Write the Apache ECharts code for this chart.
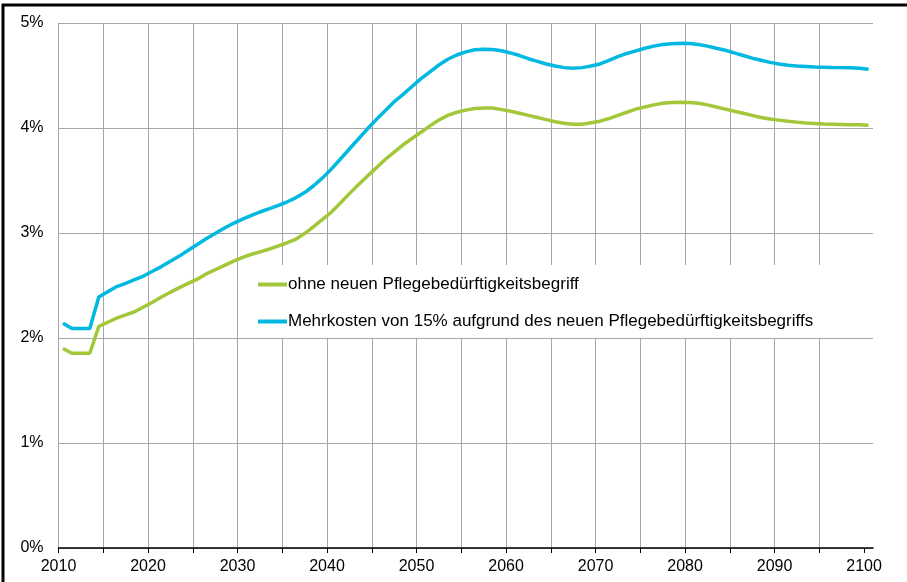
<!DOCTYPE html>
<html>
<head>
<meta charset="utf-8">
<script src="https://cdn.jsdelivr.net/npm/echarts@6/dist/echarts.min.js"></script>
<style>
  html, body { margin: 0; padding: 0; background: #fff; }
  #chart { width: 907px; height: 582px; }
</style>
</head>
<body>
<div id="chart"></div>
<script>
// Jahre 2010..2100 (Werte liegen jeweils in der Jahresmitte)
const firstYear = 2010
const seriesNames = [
  'ohne neuen Pflegebedürftigkeitsbegriff',
  'Mehrkosten von 15% aufgrund des neuen Pflegebedürftigkeitsbegriffs'
]
// ohne neuen Pflegebedürftigkeitsbegriff, in %
const ohneNeuen = [
  1.90, 1.855, 1.855, 1.855, 2.11, 2.15, 2.19, 2.22, 2.25, 2.295,
  2.34, 2.39, 2.435, 2.48, 2.52, 2.56, 2.61, 2.65, 2.69, 2.73,
  2.765, 2.795, 2.82, 2.845, 2.875, 2.905, 2.94, 2.995, 3.06, 3.13,
  3.20, 3.285, 3.375, 3.46, 3.54, 3.62, 3.70, 3.77, 3.84, 3.90,
  3.96, 4.02, 4.076, 4.12, 4.15, 4.17, 4.185, 4.19, 4.19, 4.175,
  4.16, 4.14, 4.12, 4.10, 4.08, 4.06, 4.045, 4.035, 4.035, 4.05,
  4.065, 4.09, 4.12, 4.15, 4.18, 4.20, 4.22, 4.235, 4.243, 4.245,
  4.243, 4.235, 4.22, 4.20, 4.18, 4.16, 4.14, 4.12, 4.10, 4.085,
  4.075, 4.065, 4.056, 4.048, 4.042, 4.038, 4.036, 4.034, 4.032, 4.03,
  4.026
]
// Mehrkosten von 15%, in %
const mehrkosten = [
  2.14, 2.09, 2.09, 2.09, 2.39, 2.44, 2.49, 2.52, 2.555, 2.59,
  2.635, 2.68, 2.73, 2.78, 2.835, 2.89, 2.945, 2.995, 3.045, 3.09,
  3.13, 3.165, 3.20, 3.23, 3.26, 3.295, 3.335, 3.385, 3.45, 3.525,
  3.61, 3.705, 3.80, 3.895, 3.99, 4.08, 4.165, 4.25, 4.32, 4.395,
  4.47, 4.535, 4.60, 4.655, 4.695, 4.725, 4.745, 4.75, 4.748, 4.735,
  4.715, 4.69, 4.66, 4.635, 4.61, 4.59, 4.575, 4.57, 4.575, 4.59,
  4.61, 4.645, 4.68, 4.71, 4.735, 4.76, 4.78, 4.795, 4.803, 4.807,
  4.805, 4.795, 4.78, 4.76, 4.74, 4.715, 4.69, 4.665, 4.645, 4.625,
  4.61, 4.598, 4.59, 4.585, 4.58, 4.578, 4.576, 4.575, 4.573, 4.57,
  4.56
]
const xTicks = [2010, 2015, 2020, 2025, 2030, 2035, 2040, 2045, 2050, 2055,
  2060, 2065, 2070, 2075, 2080, 2085, 2090, 2095, 2100]
const yTicks = [0, 1, 2, 3, 4, 5]

const toPoints = arr => arr.map((v, i) => [firstYear + i + 0.5, v])
const font = 'Liberation Sans, Arial, sans-serif'

const chart = echarts.init(document.getElementById('chart'))
chart.setOption({
  animation: false,
  textStyle: { fontFamily: font },
  grid: { left: 58.5, right: 34, top: 23, bottom: 34 },
  graphic: [
    { type: 'line', shape: { x1: 2, y1: 5, x2: 907, y2: 5 }, style: { stroke: '#000', lineWidth: 3 } },
    { type: 'line', shape: { x1: 3, y1: 4, x2: 3, y2: 582 }, style: { stroke: '#000', lineWidth: 3 } }
  ],
  legend: {
    orient: 'vertical',
    left: 238,
    top: 265,
    padding: [11, 22, 8, 20],
    backgroundColor: '#fff',
    icon: 'rect',
    itemWidth: 29,
    itemHeight: 4,
    itemGap: 20,
    textStyle: { color: '#000', fontSize: 17, fontFamily: font, padding: [0, 0, 0, -4] },
    data: seriesNames
  },
  xAxis: {
    type: 'value',
    min: 2010,
    max: 2101,
    interval: 5,
    axisLine: { show: true, onZero: false, lineStyle: { color: '#000', width: 1.5 } },
    axisTick: { show: true, length: 5, lineStyle: { color: '#000' }, customValues: xTicks },
    axisLabel: {
      color: '#000',
      fontSize: 16,
      margin: 11,
      customValues: xTicks.filter(v => v % 10 === 0),
      formatter: v => String(v)
    },
    splitLine: { show: true, showMaxLine: false, lineStyle: { color: '#a6a6a6', width: 1 } }
  },
  yAxis: {
    type: 'value',
    min: 0,
    max: 5,
    interval: 1,
    axisLine: { show: false },
    axisTick: { show: false },
    axisLabel: {
      color: '#000',
      fontSize: 16,
      margin: 15,
      formatter: v => (yTicks.includes(v) ? v + '%' : '')
    },
    splitLine: { show: true, lineStyle: { color: '#a6a6a6', width: 1 } }
  },
  series: [
    {
      name: seriesNames[0],
      type: 'line',
      data: toPoints(ohneNeuen),
      symbol: 'none',
      color: '#a2c83a',
      lineStyle: { width: 3.5, color: '#a2c83a' },
      z: 3
    },
    {
      name: seriesNames[1],
      type: 'line',
      data: toPoints(mehrkosten),
      symbol: 'none',
      color: '#00b8e0',
      lineStyle: { width: 3.5, color: '#00b8e0' },
      z: 3
    }
  ]
})
</script>
</body>
</html>
